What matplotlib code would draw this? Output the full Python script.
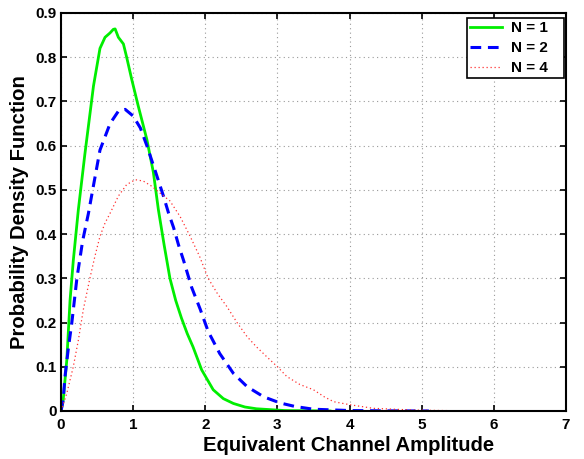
import matplotlib
matplotlib.use("Agg")
import matplotlib.pyplot as plt

# Data
x_n1 = [0, 0.03, 0.08, 0.125, 0.17, 0.24, 0.33, 0.45, 0.54, 0.61, 0.68, 0.725, 0.75, 0.795,
        0.865, 0.91, 0.98, 1.07, 1.19, 1.28, 1.35, 1.43, 1.51, 1.59, 1.67, 1.75, 1.83, 1.95,
        2.11, 2.25, 2.39, 2.55, 2.71, 3.1, 3.73]
y_n1 = [0, 0.025, 0.115, 0.25, 0.34, 0.455, 0.58, 0.735, 0.82, 0.845, 0.855, 0.863, 0.864, 0.845,
        0.83, 0.80, 0.75, 0.69, 0.614, 0.54, 0.455, 0.375, 0.30, 0.25, 0.21, 0.175, 0.145, 0.093,
        0.048, 0.028, 0.017, 0.009, 0.005, 0.001, 0]

x_n2 = [0, 0.03, 0.055, 0.10, 0.15, 0.22, 0.30, 0.38, 0.45, 0.54, 0.61, 0.68, 0.795, 0.89,
        1.0, 1.10, 1.19, 1.30, 1.42, 1.49, 1.56, 1.63, 1.70, 1.81, 1.93, 2.04, 2.2, 2.39, 2.58,
        2.81, 3.04, 3.25, 3.5, 4.0, 4.5, 5.1]
y_n2 = [0, 0.025, 0.078, 0.14, 0.20, 0.30, 0.385, 0.447, 0.51, 0.59, 0.62, 0.65, 0.678, 0.682,
        0.667, 0.64, 0.60, 0.546, 0.486, 0.448, 0.415, 0.375, 0.34, 0.28, 0.23, 0.18, 0.13, 0.085,
        0.055, 0.032, 0.018, 0.01, 0.004, 0.001, 0.0003, 0]

x_n4 = [0, 0.08, 0.17, 0.24, 0.31, 0.40, 0.47, 0.54, 0.61, 0.68, 0.795, 0.91, 1.03, 1.14,
        1.26, 1.37, 1.51, 1.65, 1.79, 1.92, 2.04, 2.17, 2.30, 2.44, 2.58, 2.71, 2.85, 3.0,
        3.13, 3.31, 3.5, 3.65, 3.78, 4.01, 4.33, 4.9, 5.5, 6.69]
y_n4 = [0, 0.04, 0.10, 0.16, 0.23, 0.30, 0.35, 0.395, 0.425, 0.447, 0.486, 0.512, 0.523, 0.52,
        0.508, 0.493, 0.475, 0.44, 0.395, 0.35, 0.30, 0.265, 0.236, 0.20, 0.168, 0.145, 0.123, 0.10,
        0.078, 0.06, 0.048, 0.032, 0.021, 0.014, 0.006, 0.002, 0.0005, 0]

labels = ["N = 1", "N = 2", "N = 4"]
x_ticks = [0, 1, 2, 3, 4, 5, 6, 7]
y_ticks = [0, 0.1, 0.2, 0.3, 0.4, 0.5, 0.6, 0.7, 0.8, 0.9]
y_tick_labels = ["0", "0.1", "0.2", "0.3", "0.4", "0.5", "0.6", "0.7", "0.8", "0.9"]

plt.rcParams['font.family'] = ['Liberation Sans', 'DejaVu Sans']
plt.rcParams['font.weight'] = 'bold'

fig = plt.figure(figsize=(5.84, 4.59), dpi=100)
ax = fig.add_axes([0.1045, 0.1046, 0.969 - 0.1045, 0.9717 - 0.1046])

ax.plot(x_n1, y_n1, color='#00ee00', lw=2.0, linestyle='-', label=labels[0])
ax.plot(x_n2, y_n2, color='#0000ff', lw=2.2, linestyle=(0, (3.5, 2.2)), label=labels[1])
ax.plot(x_n4, y_n4, color='#ff3030', lw=0.9, linestyle=(0, (1, 2.2)), label=labels[2])

ax.set_xlim(0, 7)
ax.set_ylim(0, 0.9)
ax.set_xticks(x_ticks)
ax.set_xticklabels([str(t) for t in x_ticks])
ax.set_yticks(y_ticks)
ax.set_yticklabels(y_tick_labels)

ax.grid(True, color='#999999', linestyle=(0, (1, 3)), linewidth=0.8)
ax.tick_params(direction='in', length=4, width=1.2, top=True, right=True,
               labelsize=11)
ax.tick_params(axis='y', pad=3)
ax.tick_params(axis='x', pad=5)
for lab in ax.get_xticklabels() + ax.get_yticklabels():
    lab.set_fontweight('bold')
for s in ax.spines.values():
    s.set_linewidth(1.5)

ax.set_xlabel("Equivalent Channel Amplitude", fontsize=14.6, fontweight='bold')
ax.xaxis.set_label_coords((349 - 61) / 505.0, -0.064, transform=ax.transAxes)
ax.xaxis.label.set_va('top')
ax.set_ylabel("Probability Density Function", fontsize=14.6, fontweight='bold', labelpad=5)

handles = ax.get_lines()
leg = ax.legend(handles, [lab + "   " for lab in labels],
                loc='upper right', bbox_to_anchor=(1 - 2.0 / 505, 1 - 5.0 / 398),
                fontsize=11, frameon=True, fancybox=False,
                edgecolor='black', handlelength=2.1, borderaxespad=0,
                labelspacing=0.4, handletextpad=0.6, borderpad=0.2)
leg.get_frame().set_linewidth(1.2)
leg.get_frame().set_alpha(1)
for t in leg.get_texts():
    t.set_fontweight('bold')

fig.savefig("out.png", dpi=100)
